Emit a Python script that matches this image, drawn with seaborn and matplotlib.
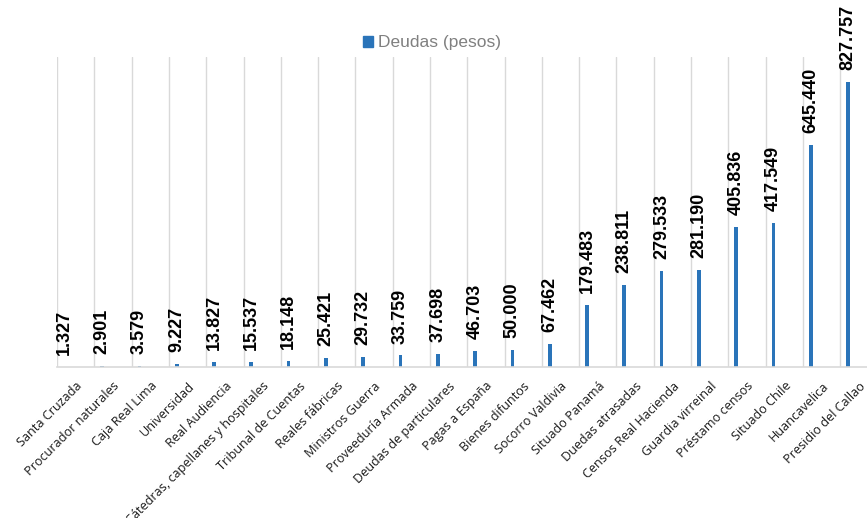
import matplotlib
matplotlib.use("Agg")
import matplotlib.pyplot as plt
import matplotlib.patches as mpatches
import seaborn as sns
import pandas as pd
import numpy as np

categorias = [
    "Santa Cruzada", "Procurador naturales", "Caja Real Lima", "Universidad",
    "Real Audiencia", "Cátedras, capellanes y hospitales", "Tribunal de Cuentas",
    "Reales fábricas", "Ministros Guerra", "Proveeduría Armada",
    "Deudas de particulares", "Pagas a España", "Bienes difuntos",
    "Socorro Valdivia", "Situado Panamá", "Duedas atrasadas",
    "Censos Real Hacienda", "Guardia virreinal", "Préstamo censos",
    "Situado Chile", "Huancavelica", "Presidio del Callao",
]
deudas = [
    1327, 2901, 3579, 9227, 13827, 15537, 18148, 25421, 29732, 33759,
    37698, 46703, 50000, 67462, 179483, 238811, 279533, 281190, 405836,
    417549, 645440, 827757,
]
serie = "Deudas (pesos)"

df = pd.DataFrame({"categoria": categorias, "valor": deudas})

azul = "#2a74b9"
gris_rejilla = "#d9d9d9"

sns.set_theme(style="white")
plt.rcParams["font.family"] = ["Liberation Sans", "DejaVu Sans"]

fig = plt.figure(figsize=(8.67, 5.18), dpi=100)
ax = fig.add_axes([57 / 867, 151 / 518, 820.6 / 867, 310 / 518])

sns.barplot(data=df, x="categoria", y="valor", color=azul, width=0.1,
            saturation=1, ax=ax, order=categorias)

# each bar sits toward the left side of its category slot
desplazamiento = -0.29
for p in ax.patches:
    p.set_x(p.get_x() + desplazamiento)
    p.set_edgecolor("none")

ax.set_xlim(-0.5, len(categorias) - 0.5)
ax.set_ylim(0, 900000)

# vertical separators between categories
for k in range(len(categorias) + 1):
    ax.axvline(k - 0.5, color=gris_rejilla, lw=1.0, zorder=0)

for s in ["top", "right", "left"]:
    ax.spines[s].set_visible(False)
ax.spines["bottom"].set_color(gris_rejilla)
ax.spines["bottom"].set_linewidth(1.2)

ax.set_yticks([])
ax.set_ylabel("")
ax.set_xlabel("")
ax.tick_params(axis="x", length=0, pad=9)
ax.set_xticks(range(len(categorias)))
ax.set_xticklabels(categorias, rotation=45, ha="right", rotation_mode="anchor",
                   fontsize=9.1, family=["Open Sans", "DejaVu Sans"],
                   color="#1a1a1a")

# value labels above each bar
for p, v in zip(ax.patches, deudas):
    etiqueta = f"{v:,}".replace(",", ".")
    ax.annotate(etiqueta, (p.get_x() + p.get_width() / 2, p.get_height()),
                xytext=(0, 8.5), textcoords="offset points",
                rotation=90, ha="center", va="bottom",
                fontsize=13, fontweight="bold", color="black",
                annotation_clip=False)

handle = mpatches.Patch(color=azul, label=serie)
fig.legend(handles=[handle], loc="center", bbox_to_anchor=(432 / 867, 1 - 43 / 518),
           frameon=False, fontsize=12.5, labelcolor="#808080",
           handlelength=0.6, handleheight=0.6, handletextpad=0.3)

fig.savefig("out.png", dpi=100)
